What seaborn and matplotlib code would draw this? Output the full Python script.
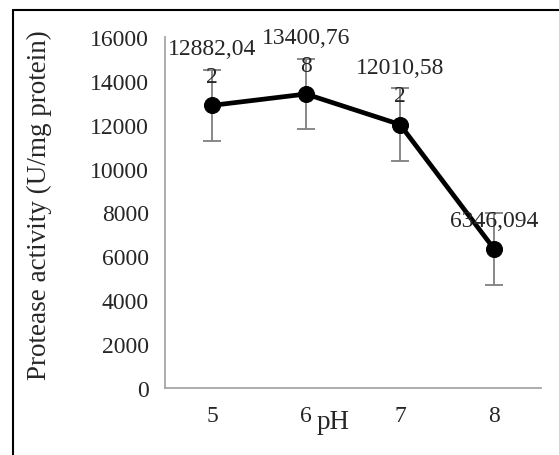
import matplotlib
matplotlib.use('Agg')
import matplotlib.pyplot as plt
import seaborn as sns
import numpy as np
from matplotlib.lines import Line2D

# data
ph_levels = ['5', '6', '7', '8']
activity = [12882.042, 13400.768, 12010.582, 6346.094]
activity_err = [1610, 1610, 1650, 1640]
point_labels = ['12882,04\n2', '13400,76\n8', '12010,58\n2', '6346,094']

sns.set_style('white')
plt.rcParams['font.family'] = ['Liberation Serif', 'DejaVu Serif']
plt.rcParams['font.size'] = 17

fig = plt.figure(figsize=(5.59, 4.56), dpi=100)
ax = fig.add_axes([165 / 559, 1 - 389 / 456, 376 / 559, 351 / 456])

pos = np.arange(len(ph_levels))

ax.errorbar(pos, activity, yerr=activity_err, fmt='none', ecolor='#7f7f7f',
            elinewidth=1.3, capsize=6.5, capthick=1.3, zorder=2)
sns.lineplot(x=pos, y=activity, ax=ax, color='black', linewidth=3.4,
             marker='o', markersize=11.5, markeredgecolor='black', zorder=3)

for x, y, lab in zip(pos, activity, point_labels):
    ax.annotate(lab, (x, y), xytext=(0, 13), textcoords='offset points',
                ha='center', va='bottom', fontsize=17, linespacing=1.45)

ax.set_xlim(-0.5, 3.5)
ax.set_ylim(0, 16000)
ax.set_yticks(np.arange(0, 16001, 2000))
ax.set_xticks(list(pos) + [3.5], labels=ph_levels + [''])

for side in ('top', 'right'):
    ax.spines[side].set_visible(False)
for side in ('left', 'bottom'):
    ax.spines[side].set_color('#a6a6a6')
    ax.spines[side].set_linewidth(1.3)

ax.tick_params(axis='both', direction='inout', length=7, width=1.3,
               color='#a6a6a6', labelsize=17)
ax.tick_params(axis='y', pad=8)
ax.tick_params(axis='x', pad=9)
ax.grid(False)

ax.set_ylabel('Protease activity (U/mg protein)', fontsize=19.5)
ax.yaxis.set_label_coords(-0.30, 0.525)
ax.set_xlabel('pH', fontsize=19.5)
ax.xaxis.set_label_coords(0.447, -0.06)

# chart frame (only top and left edges visible in the crop)
fig.add_artist(Line2D([13 / 559, 13 / 559], [0, 1 - 11 / 456], color='black', lw=1.5,
                      transform=fig.transFigure))
fig.add_artist(Line2D([13 / 559, 1], [1 - 11 / 456, 1 - 11 / 456], color='black', lw=1.5,
                      transform=fig.transFigure))

fig.savefig('out.png', dpi=100)
